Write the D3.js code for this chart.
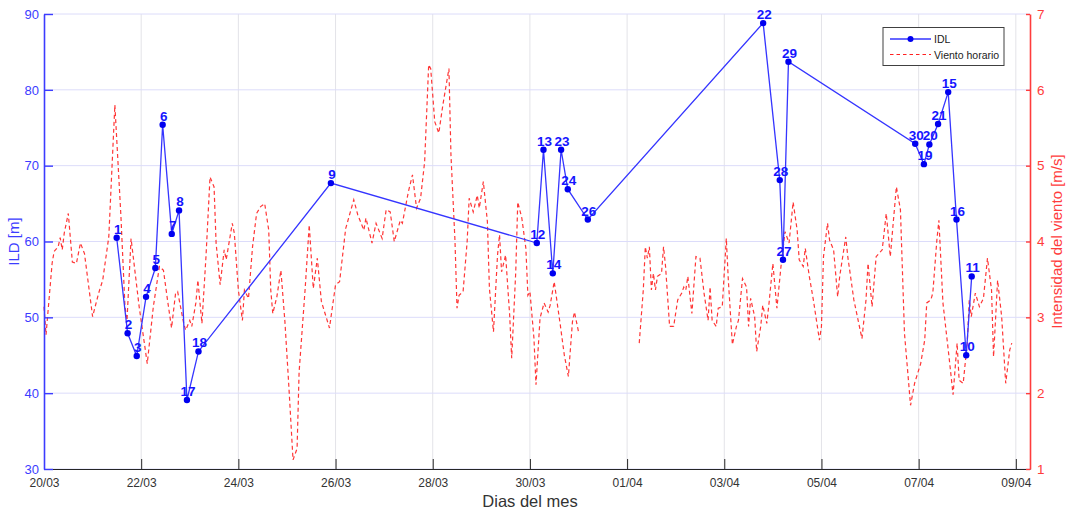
<!DOCTYPE html>
<html>
<head>
<meta charset="utf-8">
<script src="https://cdn.jsdelivr.net/npm/d3@7"></script>
<style>
  html, body { margin: 0; padding: 0; background: #ffffff; }
  svg { display: block; font-family: "Liberation Sans", Arial, sans-serif; }
</style>
</head>
<body>
<svg id="chart" width="1067" height="514"></svg>
<script>
// ---------------- DATA ----------------
const baseDate = "20/03/2019";
const xTickLabels = ["20/03","22/03","24/03","26/03","28/03","30/03","01/04","03/04","05/04","07/04","09/04"];
const ildTicks = [30, 40, 50, 60, 70, 80, 90];
const windTicks = [1, 2, 3, 4, 5, 6, 7];

// IDL points (time in hours since 20/03 00:00), in chronological order
const idlLabels = [1, 2, 3, 4, 5, 6, 7, 8, 17, 18, 9, 12, 13, 14, 23, 24, 26, 22, 28, 27, 29, 30, 19, 20, 21, 15, 16, 10, 11];
const idlHours  = [35.9, 41.3, 45.8, 50.4, 55.0, 58.6, 63.1, 66.7, 70.6, 76.3, 141.7, 243.4, 246.7, 251.3, 255.4, 258.7, 268.6, 355.2, 363.4, 365.0, 367.7, 430.3, 434.6, 437.3, 441.6, 446.6, 450.7, 455.5, 458.2];
const idlValues = [60.5, 47.9, 44.9, 52.7, 56.5, 75.4, 61.0, 64.1, 39.1, 45.5, 67.7, 59.8, 72.1, 55.8, 72.1, 66.9, 62.9, 88.8, 68.1, 57.6, 83.7, 72.9, 70.2, 72.8, 75.5, 79.7, 62.9, 45.0, 55.4];

// Hourly wind (hours since 20/03 00:00); null marks the data gap
const windHours = [0,1,4,5,7,8,9,10,12,14,16,18,20,24,27,29,32,35,38,40,41,43,47,51,54,57,59,61,63,65,66,69,70,72,73,75,76,78,80,82,84,85,87,89,90,93,94,96,98,99,101,103,105,107,109,111,112,113,115,117,119,121,123,125,126,129,131,133,135,137,141,144,146,149,153,155,158,159,162,164,167,169,171,173,176,177,180,182,184,186,188,190,191,193,195,197,200,201,203,204,205,207,209,210,212,214,215,217,219,220,222,224,225,226,228,230,231,233,234,236,238,239,240,242,243,245,247,249,250,252,255,257,259,261,262,264,
  280,
  294,296,297,298,299,300,301,302,303,305,306,307,309,311,313,315,316,317,318,320,322,324,326,328,329,330,332,333,335,337,338,340,342,343,345,347,348,349,351,352,354,355,357,358,360,362,364,366,368,370,372,373,375,376,378,380,383,384,385,387,388,390,392,393,396,397,400,404,406,407,409,411,414,416,418,419,421,423,425,428,430,433,435,436,438,439,441,442,444,447,449,451,452,454,456,457,458,460,462,464,466,468,469,471,473,475,477,478];
const windSpeed = [3.14,2.77,3.71,3.87,3.93,4.05,3.89,4.11,4.37,3.73,3.71,3.98,3.84,3.01,3.32,3.49,4.06,5.80,4.33,3.14,2.96,4.04,3.14,2.39,3.14,3.67,3.62,3.23,2.86,3.32,3.34,2.92,2.83,2.96,2.88,3.19,3.49,2.92,3.80,4.85,4.72,3.98,3.43,3.89,3.76,4.24,4.11,3.36,2.96,3.36,3.25,3.93,4.37,4.46,4.50,4.15,3.36,3.05,3.27,3.62,2.94,2.06,1.12,1.27,2.28,3.38,4.22,3.38,3.78,3.21,2.86,3.43,3.47,4.17,4.55,4.35,4.15,4.31,3.98,4.24,4.04,4.42,4.39,4.00,4.28,4.24,4.66,4.88,4.44,4.57,5.05,6.33,6.28,5.58,5.43,5.80,6.28,5.14,4.00,3.12,3.29,3.34,4.00,4.57,4.39,4.61,4.44,4.79,4.26,3.38,2.81,3.82,4.09,3.60,3.82,3.03,2.46,3.60,4.52,4.31,3.91,3.29,3.34,2.72,2.11,2.99,3.19,3.07,3.16,3.47,2.90,2.50,2.22,2.94,3.07,2.81,
  null,
  2.66,3.36,3.93,3.78,3.93,3.36,3.58,3.36,3.54,3.58,3.93,3.67,2.88,2.88,3.23,3.32,3.40,3.36,3.54,3.05,3.80,3.78,3.32,2.96,3.40,2.96,2.88,3.12,3.14,4.04,3.49,2.64,2.88,2.96,3.51,3.40,2.88,3.25,3.01,2.55,2.88,3.16,2.92,3.16,3.71,3.12,3.67,4.13,3.98,4.52,4.15,3.76,3.67,3.91,3.54,3.23,2.70,2.88,3.80,4.24,4.02,3.89,3.27,3.54,4.06,3.80,3.23,2.72,3.23,3.71,3.14,3.80,3.89,4.37,3.80,4.11,4.72,4.42,2.79,1.84,2.13,2.39,2.70,3.19,3.23,3.32,4.02,4.28,3.19,2.48,1.98,2.66,2.17,2.13,2.66,3.23,3.01,3.32,3.14,3.25,3.78,3.36,2.48,3.49,3.01,2.13,2.57,2.66];

// ---------------- CHART ----------------
const W = 1067, H = 514;
const margin = { left: 44, right: 37, top: 14, bottom: 45 };
const innerW = W - margin.left - margin.right;   // 986
const innerH = H - margin.top - margin.bottom;   // 455

const blue = "#3c3cff", red = "#ff3c3c";
const svg = d3.select("#chart");
const g = svg.append("g").attr("transform", `translate(${margin.left},${margin.top})`);

const parse = d3.utcParse("%d/%m/%Y");
const t0 = parse(baseDate);
const hourToDate = h => new Date(t0.getTime() + h * 3600000);
const tickDates = xTickLabels.map(l => parse(l + "/2019"));
const xEnd = d3.utcHour.offset(tickDates[tickDates.length - 1], 7);

const x = d3.scaleUtc().domain([tickDates[0], xEnd]).range([0, innerW]);
const yL = d3.scaleLinear().domain([30, 90]).range([innerH, 0]);
const yR = d3.scaleLinear().domain([1, 7]).range([innerH, 0]);

// grid
g.append("g").selectAll("line").data(tickDates.slice(1)).join("line")
  .attr("x1", d => x(d)).attr("x2", d => x(d)).attr("y1", 0).attr("y2", innerH)
  .attr("stroke", "#e3e3e8").attr("stroke-width", 1);
g.append("g").selectAll("line").data(ildTicks).join("line")
  .attr("x1", 0).attr("x2", innerW).attr("y1", d => yL(d)).attr("y2", d => yL(d))
  .attr("stroke", "#dcdcfa").attr("stroke-width", 1);

// wind line
const windData = windHours.map((h, i) => ({ t: hourToDate(h), v: windSpeed[i] }));
g.append("path").datum(windData)
  .attr("fill", "none").attr("stroke", "#ff2020").attr("stroke-width", 1.2)
  .attr("stroke-dasharray", "4,3").attr("opacity", 0.9)
  .attr("d", d3.line().defined(d => d.v !== null).x(d => x(d.t)).y(d => yR(d.v)));

// IDL line
const idlData = idlHours.map((h, i) => ({ t: hourToDate(h), v: idlValues[i], label: idlLabels[i] }));
g.append("path").datum(idlData)
  .attr("fill", "none").attr("stroke", "#3535ff").attr("stroke-width", 1.3)
  .attr("d", d3.line().x(d => x(d.t)).y(d => yL(d.v)));
g.append("g").selectAll("circle").data(idlData).join("circle")
  .attr("cx", d => x(d.t)).attr("cy", d => yL(d.v)).attr("r", 3.2).attr("fill", "#0000f0");
g.append("g").selectAll("text").data(idlData).join("text")
  .attr("x", d => x(d.t) + 1).attr("y", d => yL(d.v) - 4)
  .attr("text-anchor", "middle").attr("font-size", 13.5).attr("font-weight", "bold")
  .attr("fill", "#1515ff").text(d => d.label);

// axes
const axB = g.append("g").attr("transform", `translate(0,${innerH})`)
  .call(d3.axisBottom(x).tickValues(tickDates).tickFormat((d, i) => xTickLabels[i]).tickSizeInner(-10).tickSizeOuter(0).tickPadding(9));
axB.select(".domain").attr("stroke", "#262626");
axB.selectAll(".tick line").attr("stroke", "#262626");
axB.selectAll("text").attr("fill", "#333").attr("font-size", 12).attr("font-family", "Liberation Sans, Arial, sans-serif");

const axL = g.append("g")
  .call(d3.axisLeft(yL).tickValues(ildTicks).tickSizeInner(-9).tickSizeOuter(0).tickPadding(5));
axL.select(".domain").attr("stroke", blue).attr("stroke-width", 1.6);
axL.selectAll(".tick line").attr("stroke", blue).attr("stroke-width", 1.4);
axL.selectAll("text").attr("fill", blue).attr("font-size", 13).attr("font-family", "Liberation Sans, Arial, sans-serif");

const axR = g.append("g").attr("transform", `translate(${innerW},0)`)
  .call(d3.axisRight(yR).tickValues(windTicks).tickFormat(d3.format("d")).tickSizeInner(-4).tickSizeOuter(0).tickPadding(7));
axR.select(".domain").attr("stroke", red).attr("stroke-width", 1.6);
axR.selectAll(".tick line").attr("stroke", red).attr("stroke-width", 1.4);
axR.selectAll("text").attr("fill", red).attr("font-size", 13.5).attr("font-family", "Liberation Sans, Arial, sans-serif");

// axis titles
svg.append("text").attr("transform", `translate(19,${margin.top + innerH / 2}) rotate(-90)`)
  .attr("text-anchor", "middle").attr("fill", blue).attr("font-size", 15).text("ILD [m]");
svg.append("text").attr("transform", `translate(1062,${margin.top + innerH / 2}) rotate(-90)`)
  .attr("text-anchor", "middle").attr("fill", red).attr("font-size", 15).text("Intensidad del viento [m/s]");
svg.append("text").attr("x", 530).attr("y", 507)
  .attr("text-anchor", "middle").attr("fill", "#333").attr("font-size", 16.5).text("Dias del mes");

// legend
const lg = svg.append("g").attr("transform", "translate(883,27.5)");
lg.append("rect").attr("width", 121).attr("height", 38).attr("fill", "#fff").attr("stroke", "#404040").attr("stroke-width", 1);
lg.append("line").attr("x1", 7).attr("x2", 48).attr("y1", 11.5).attr("y2", 11.5).attr("stroke", "#3535ff").attr("stroke-width", 1.3);
lg.append("circle").attr("cx", 27.5).attr("cy", 11.5).attr("r", 3).attr("fill", "#0000f0");
lg.append("line").attr("x1", 7).attr("x2", 48).attr("y1", 27).attr("y2", 27).attr("stroke", "#ff2020").attr("stroke-width", 1.2).attr("stroke-dasharray", "3.5,3");
lg.append("text").attr("x", 51).attr("y", 15.5).attr("font-size", 10.5).attr("fill", "#222").text("IDL");
lg.append("text").attr("x", 51).attr("y", 31).attr("font-size", 10.5).attr("fill", "#222").text("Viento horario");
</script>
</body>
</html>
